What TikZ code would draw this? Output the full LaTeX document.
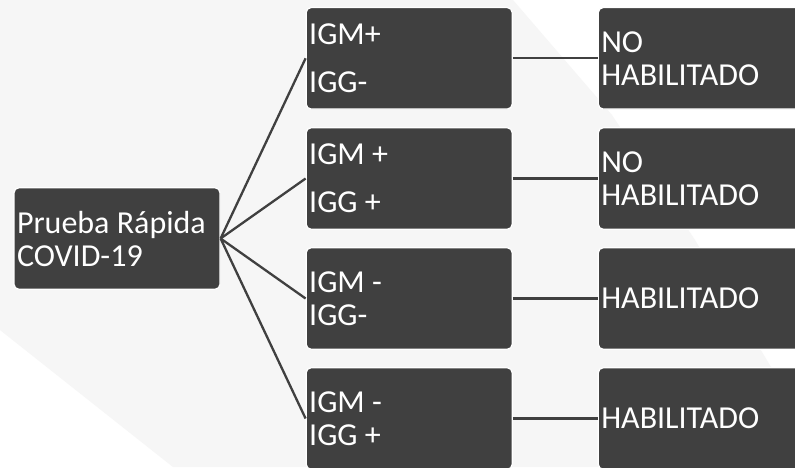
\documentclass[tikz,border=0pt]{standalone}
\usepackage{fontspec}
\setmainfont{Carlito}
\definecolor{boxgrey}{RGB}{64,64,64}
\definecolor{bgshade}{RGB}{246,246,246}
\tikzset{every node/.style={draw=white,line width=1.2pt,fill=boxgrey,text=white,rounded corners=5pt,
  minimum height=101.5pt,text width=200pt,inner xsep=3pt,align=flush left,
  font=\fontsize{32}{33}\selectfont}}

\begin{document}
\begin{tikzpicture}[x=1pt,y=-1pt]
      \useasboundingbox (0,0) rectangle (795,467);
      \fill[white] (0,0) rectangle (795,467);
      \fill[bgshade] (0,0) -- (513,0) -- (612,115) -- (695,240) -- (768,362) -- (795,407)
        -- (795,467) -- (173,467) -- (0,330) -- cycle;

      \node (t) at (117,238.5) {Prueba Rápida\\COVID-19};
      \node (1) at (409.2,58.3) {IGM+\\[15pt]IGG-};
      \node (2) at (409.2,178.5) {IGM +\\[15pt]IGG +};
      \node (3) at (409.2,298.5) {IGM -\\IGG-};
      \node (4) at (409.2,418.5) {IGM -\\IGG +};
      \node (w) at (701.3,58.3) {NO\\HABILITADO};
      \node (x) at (701.3,178.5) {NO\\HABILITADO};
      \node (y) at (701.3,298.5) {HABILITADO};
      \node (z) at (701.3,418.5) {HABILITADO};

\foreach \a/\b in {t/1,t/2,t/3,t/4,1/w,2/x,3/y,4/z}
  \draw[boxgrey,line width=2.3pt] (\a.east) -- (\b.west);
    \end{tikzpicture}
\end{document}
